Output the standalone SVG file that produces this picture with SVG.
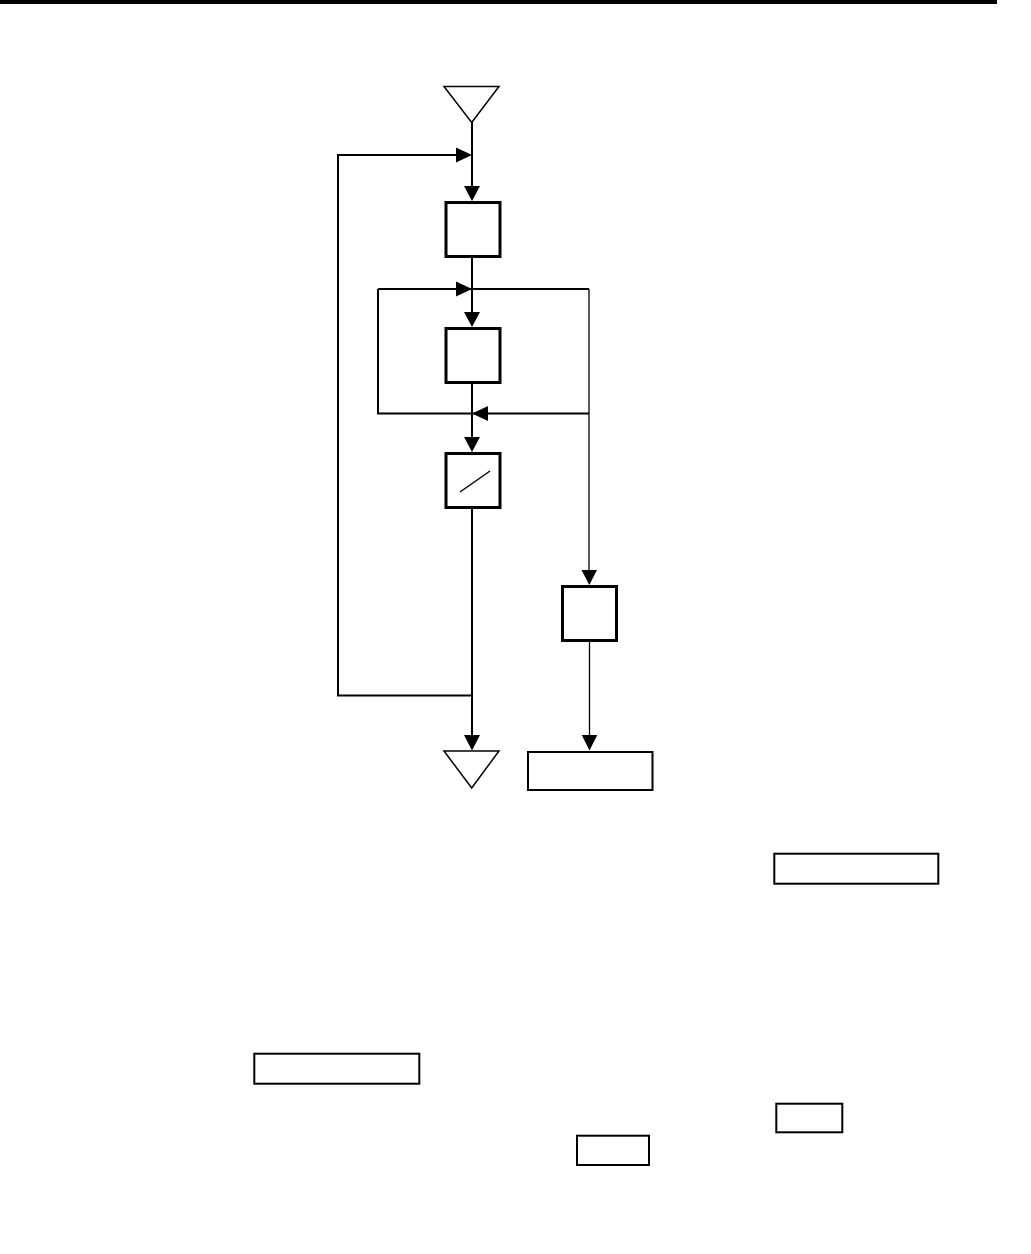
<svg xmlns="http://www.w3.org/2000/svg" width="1031" height="1254" viewBox="0 0 1031 1254">
<style>
.bx{fill:#fff;stroke:#000;stroke-width:3}
.rb{fill:#fff;stroke:#000;stroke-width:2}
.tri{fill:#fff;stroke:#000;stroke-width:1.5}
.ln{fill:none;stroke:#000;stroke-width:2}
.thin{fill:none;stroke:#000;stroke-width:1.3}
.ah{fill:#000;stroke:none}
</style>
<rect x="0" y="0" width="997" height="4" fill="#000"/>
<g id="connectors">
<path class="ln" d="M472,122 V186"/>
<path class="ln" d="M472,258 V312"/>
<path class="ln" d="M472,384 V437"/>
<path class="ln" d="M472,509 V735"/>
<path class="ln" d="M472,695.5 H338 V155 H456"/>
<path class="ln" d="M378,289 H589"/>
<path class="ln" d="M378,289 V413.5 H589"/>
<path class="thin" d="M589,289 V570"/>
<path class="thin" d="M589.5,642 V736"/>
<polygon class="ah" points="464,186 480,186 472,201"/>
<polygon class="ah" points="456,147.5 472,155 456,162.5"/>
<polygon class="ah" points="464,312 480,312 472,327"/>
<polygon class="ah" points="456,281.5 472,289 456,296.5"/>
<polygon class="ah" points="488,406 472,413.5 488,421"/>
<polygon class="ah" points="464,437 480,437 472,452"/>
<polygon class="ah" points="464,735 480,735 472,750.5"/>
<polygon class="ah" points="581.5,570 597,570 589.3,585"/>
<polygon class="ah" points="581.7,735 597.3,735 589.5,750.5"/>
</g>
<g id="start"><polygon class="tri" points="444,86.5 499,86.5 471.7,122.5"/></g>
<g id="box1"><rect class="bx" x="446" y="202.5" width="54" height="54"/></g>
<g id="box2"><rect class="bx" x="446" y="328.5" width="54" height="54"/></g>
<g id="box3"><rect class="bx" x="446" y="453.5" width="54" height="54"/><line x1="460" y1="492" x2="490" y2="471" stroke="#000" stroke-width="1.5"/></g>
<g id="box4"><rect class="bx" x="562.5" y="586.5" width="54" height="54"/></g>
<g id="end"><polygon class="tri" points="444,751 499,751 471.7,788"/></g>
<g id="out"><rect class="rb" x="528" y="752" width="124.5" height="38"/></g>
<g id="r1"><rect class="rb" x="774.3" y="853.7" width="164" height="30"/></g>
<g id="r2"><rect class="rb" x="254.3" y="1053.7" width="165" height="30"/></g>
<g id="r3"><rect class="rb" x="577" y="1135.7" width="72" height="29.3"/></g>
<g id="r4"><rect class="rb" x="776.3" y="1103.7" width="66" height="28.6"/></g>
</svg>
